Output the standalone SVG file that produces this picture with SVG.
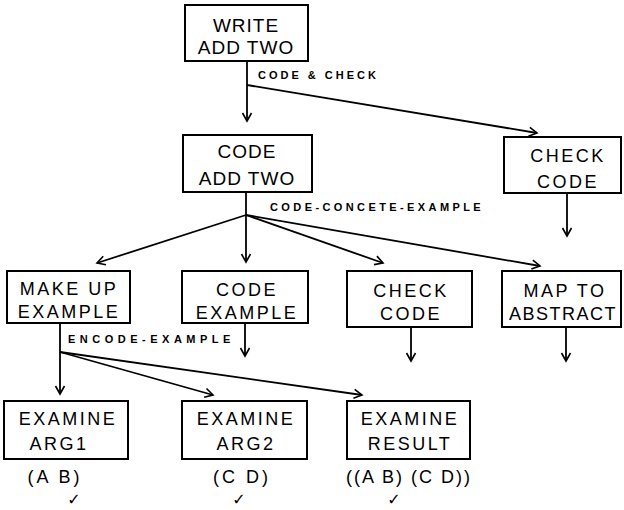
<svg xmlns="http://www.w3.org/2000/svg" width="624" height="510" viewBox="0 0 624 510">
<style>
.box{fill:none;stroke:#000;stroke-width:2}
.t{font-family:"Liberation Sans",Arial,sans-serif;font-size:18px;letter-spacing:2.5px;text-anchor:middle;fill:#000}
.t2{font-family:"Liberation Sans",Arial,sans-serif;font-size:19px;letter-spacing:1px;text-anchor:middle;fill:#000}
.lbl{font-family:"Liberation Sans",Arial,sans-serif;font-size:11px;font-weight:bold;fill:#000}
.res{font-family:"Liberation Sans",Arial,sans-serif;font-size:18px;letter-spacing:3px;text-anchor:middle;fill:#000}
.chk{font-family:"DejaVu Sans",sans-serif;font-size:16px;text-anchor:middle;fill:#000}
.c{fill:none;stroke:#000;stroke-width:1.8}
</style>
<defs>
<marker id="ah" markerWidth="12" markerHeight="12" refX="10" refY="6" orient="auto" markerUnits="userSpaceOnUse">
<path d="M2,1.5 L10,6 L2,10.5" fill="none" stroke="#000" stroke-width="1.6"/>
</marker>
</defs>
<g id="connectors">
<path class="c" d="M247,61 V85"/>
<path class="c" d="M247,85 V121" marker-end="url(#ah)"/>
<path class="c" d="M247,85 L537,133" marker-end="url(#ah)"/>
<path class="c" d="M246,192 V215"/>
<path class="c" d="M246,215 L97,263" marker-end="url(#ah)"/>
<path class="c" d="M246,215 V262" marker-end="url(#ah)"/>
<path class="c" d="M246,215 L383,263" marker-end="url(#ah)"/>
<path class="c" d="M246,215 L540,266" marker-end="url(#ah)"/>
<path class="c" d="M567,193 V236" marker-end="url(#ah)"/>
<path class="c" d="M245,323 V356" marker-end="url(#ah)"/>
<path class="c" d="M411,327 V361" marker-end="url(#ah)"/>
<path class="c" d="M566,327 V361" marker-end="url(#ah)"/>
<path class="c" d="M60,323 V352"/>
<path class="c" d="M60,352 V394" marker-end="url(#ah)"/>
<path class="c" d="M60,352 L213,395" marker-end="url(#ah)"/>
<path class="c" d="M60,352 L362,395" marker-end="url(#ah)"/>
<text class="lbl" x="258" y="79" style="letter-spacing:3px">CODE &amp; CHECK</text>
<text class="lbl" x="270" y="211" style="letter-spacing:3.4px">CODE-CONCETE-EXAMPLE</text>
<text class="lbl" x="68" y="343" style="letter-spacing:4.5px">ENCODE-EXAMPLE</text>
</g>
<g id="n-write">
<rect class="box" x="185" y="5" width="123" height="56"/>
<text class="t2" x="246" y="32">WRITE</text>
<text class="t2" x="246" y="54">ADD TWO</text>
</g>
<g id="n-code">
<rect class="box" x="183" y="135" width="129" height="57"/>
<text class="t2" x="247" y="158">CODE</text>
<text class="t2" x="247" y="185">ADD TWO</text>
</g>
<g id="n-checkcode1">
<rect class="box" x="504" y="137" width="117" height="56"/>
<text class="t" x="568" y="162">CHECK</text>
<text class="t" x="568" y="188">CODE</text>
</g>
<g id="n-makeup">
<rect class="box" x="7" y="271" width="123" height="52"/>
<text class="t" x="69" y="295">MAKE UP</text>
<text class="t" x="69" y="318">EXAMPLE</text>
</g>
<g id="n-codeex">
<rect class="box" x="182" y="271" width="126" height="52"/>
<text class="t" x="247" y="296">CODE</text>
<text class="t" x="247" y="319">EXAMPLE</text>
</g>
<g id="n-checkcode2">
<rect class="box" x="347" y="271" width="125" height="56"/>
<text class="t" x="411" y="297">CHECK</text>
<text class="t" x="411" y="320">CODE</text>
</g>
<g id="n-map">
<rect class="box" x="502" y="271" width="119" height="56"/>
<text class="t" x="565" y="297">MAP TO</text>
<text class="t" x="563" y="320" style="letter-spacing:1.5px">ABSTRACT</text>
</g>
<g id="n-arg1">
<rect class="box" x="4" y="401" width="124" height="58"/>
<text class="t" x="68" y="425">EXAMINE</text>
<text class="t" x="59" y="450">ARG1</text>
<text class="res" x="55" y="483">(A B)</text>
<text class="chk" x="74" y="505">✓</text>
</g>
<g id="n-arg2">
<rect class="box" x="182" y="401" width="125" height="58"/>
<text class="t" x="246" y="425">EXAMINE</text>
<text class="t" x="246" y="450">ARG2</text>
<text class="res" x="242" y="483">(C D)</text>
<text class="chk" x="239" y="505">✓</text>
</g>
<g id="n-result">
<rect class="box" x="347" y="401" width="123" height="58"/>
<text class="t" x="410" y="425">EXAMINE</text>
<text class="t" x="410" y="450">RESULT</text>
<text class="res" x="409" y="483" style="letter-spacing:2px">((A B) (C D))</text>
<text class="chk" x="394" y="505">✓</text>
</g>
</svg>
